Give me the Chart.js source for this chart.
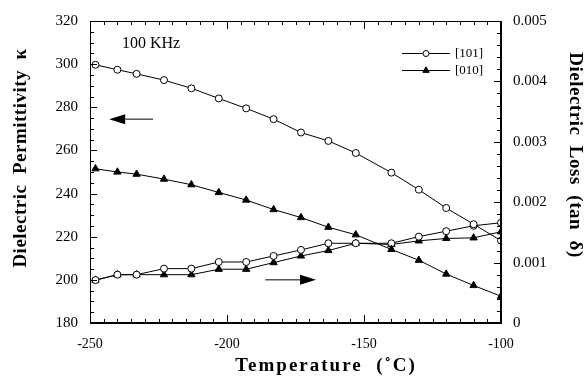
<!DOCTYPE html>
<html>
<head>
<meta charset="utf-8">
<script src="https://cdn.jsdelivr.net/npm/chart.js@4.4.1/dist/chart.umd.min.js"></script>
<style>
  html, body { margin: 0; padding: 0; background: #fff; }
  canvas { display: block; }
</style>
</head>
<body>
<canvas id="chart" width="588" height="377"></canvas>
<script>
// data
const temps = [-248, -240, -233, -223, -213, -203, -193, -183, -173, -163, -153, -140, -130, -120, -110, -100];
const kappa101 = [299.7, 297.4, 295.5, 292.6, 288.8, 284.1, 279.5, 274.5, 268.3, 264.4, 258.8, 249.7, 241.8, 233.3, 225.8, 218.2];
const kappa010 = [251.5, 250.0, 249.0, 246.7, 244.1, 240.5, 237.0, 232.6, 228.9, 224.4, 220.9, 214.1, 209.1, 202.7, 197.4, 192.4];
const loss101 = [0.00071, 0.00080, 0.00080, 0.00090, 0.00090, 0.00101, 0.00101, 0.00111, 0.00121, 0.00132, 0.00132, 0.00132, 0.00143, 0.00152, 0.00161, 0.00166];
const loss010 = [0.00071, 0.00080, 0.00080, 0.00080, 0.00080, 0.00089, 0.00089, 0.00100, 0.00111, 0.00120, 0.00132, 0.00130, 0.00136, 0.00140, 0.00141, 0.00151];

const seriesNames = ['[101]', '[010]'];
const xTicks = [-250, -200, -150, -100];
const kappaTicks = [180, 200, 220, 240, 260, 280, 300, 320];
const lossTicks = [0, 0.001, 0.002, 0.003, 0.004, 0.005];

// arrows: [fromT, toT, value, axis]
const arrows = [
  [-227, -243, 274.5, 'y'],
  [-186, -167.5, 200, 'y']
];

const serif = "'Liberation Serif', 'Times New Roman', serif";

function pts(ys) {
  return temps.map((t, i) => ({ x: t, y: ys[i] }));
}

const circle = { pointStyle: 'circle', pointRadius: 3.5, pointBackgroundColor: '#fff', pointBorderColor: '#000', pointBorderWidth: 1 };
const tri = { pointStyle: 'triangle', pointRadius: 4.2, pointBackgroundColor: '#000', pointBorderColor: '#000', pointBorderWidth: 1 };

const setTicks = arr => scale => { scale.ticks = arr.map(v => ({ value: v })); };

// inward ticks, frame, arrows, legend, titles
const decorations = {
  id: 'decorations',
  afterDraw(chart) {
    const ctx = chart.ctx;
    const a = chart.chartArea;
    const x = chart.scales.x, y = chart.scales.y, y2 = chart.scales.y2;
    ctx.save();
    ctx.strokeStyle = '#000';
    ctx.lineWidth = 1;
    ctx.strokeRect(a.left + 0.5, a.top + 0.5, a.right - a.left - 1, a.bottom - a.top - 1);

    ctx.beginPath();
    for (let t = -250; t <= -100; t += 5) {
      const px = Math.round(x.getPixelForValue(t)) + 0.5;
      const len = t % 50 === 0 ? 8 : 4;
      ctx.moveTo(px, a.bottom); ctx.lineTo(px, a.bottom - len);
      ctx.moveTo(px, a.top); ctx.lineTo(px, a.top + len);
    }
    for (let k = 180; k <= 320; k += 5) {
      const py = Math.round(y.getPixelForValue(k)) + 0.5;
      const len = k % 20 === 0 ? 7 : 4;
      ctx.moveTo(a.left, py); ctx.lineTo(a.left + len, py);
    }
    for (let i = 0; i <= 25; i++) {
      const py = Math.round(y2.getPixelForValue(i * 0.0002)) + 0.5;
      const len = i % 5 === 0 ? 7 : 4;
      ctx.moveTo(a.right, py); ctx.lineTo(a.right - len, py);
    }
    ctx.stroke();

    // arrows
    ctx.fillStyle = '#000';
    arrows.forEach(([t0, t1, v, ax]) => {
      const sc = chart.scales[ax];
      const x0 = x.getPixelForValue(t0), x1 = x.getPixelForValue(t1);
      const py = sc.getPixelForValue(v);
      const dir = Math.sign(x1 - x0);
      const head = 16;
      ctx.beginPath();
      ctx.moveTo(x0, py); ctx.lineTo(x1 - dir * head, py);
      ctx.stroke();
      ctx.beginPath();
      ctx.moveTo(x1, py);
      ctx.lineTo(x1 - dir * head, py - 5);
      ctx.lineTo(x1 - dir * head, py + 5);
      ctx.closePath();
      ctx.fill();
    });

    // legend
    const styles = [circle, tri];
    seriesNames.forEach((name, i) => {
      const ly = 53 + i * 17;
      ctx.beginPath();
      ctx.moveTo(402, ly + 0.5); ctx.lineTo(450, ly + 0.5);
      ctx.stroke();
      const s = styles[i];
      ctx.fillStyle = s.pointBackgroundColor;
      ctx.strokeStyle = '#000';
      Chart.helpers.drawPoint(ctx, { pointStyle: s.pointStyle, radius: s.pointRadius - 0.5, rotation: 0, borderWidth: 1 }, 426, ly + 0.5);
      ctx.fillStyle = '#000';
      ctx.font = '13px ' + serif;
      ctx.textAlign = 'left';
      ctx.textBaseline = 'middle';
      ctx.fillText(name, 455, ly + 1);
    });

    // frequency label
    ctx.font = '16px ' + serif;
    ctx.textBaseline = 'alphabetic';
    ctx.fillText('100 KHz', 122, 48);

    // axis titles
    ctx.font = 'bold 19px ' + serif;
    ctx.textAlign = 'center';
    ctx.textBaseline = 'middle';
    ctx.letterSpacing = '2px';
    ctx.fillText('Temperature  (˚C)', 326, 366);
    ctx.letterSpacing = '0.5px';
    ctx.save();
    ctx.translate(21, 158);
    ctx.rotate(-Math.PI / 2);
    ctx.fillText('Dielectric  Permittivity  κ', 0, 0);
    ctx.restore();
    ctx.save();
    ctx.translate(575, 155);
    ctx.rotate(Math.PI / 2);
    ctx.fillText('Dielectric  Loss  (tan  δ)', 0, 0);
    ctx.restore();
    ctx.restore();
  }
};

new Chart(document.getElementById('chart'), {
  type: 'line',
  data: {
    datasets: [
      { label: seriesNames[0], data: pts(kappa101), yAxisID: 'y', ...circle },
      { label: seriesNames[1], data: pts(kappa010), yAxisID: 'y', ...tri },
      { label: seriesNames[0] + ' loss', data: pts(loss101), yAxisID: 'y2', ...circle },
      { label: seriesNames[1] + ' loss', data: pts(loss010), yAxisID: 'y2', ...tri }
    ].map(d => Object.assign(d, { borderColor: '#000', borderWidth: 1, fill: false, tension: 0 }))
  },
  options: {
    responsive: false,
    animation: false,
    layout: { autoPadding: false, padding: { top: 15, left: 0, right: 0, bottom: 0 } },
    plugins: { legend: { display: false }, tooltip: { enabled: false } },
    scales: {
      x: {
        type: 'linear', position: 'bottom', min: -250, max: -100,
        afterBuildTicks: setTicks(xTicks),
        afterFit: s => { s.height = 54; },
        grid: { drawOnChartArea: false, drawTicks: false },
        border: { color: '#000' },
        ticks: { color: '#000', padding: 13, font: { family: serif, size: 14 } }
      },
      y: {
        position: 'left', min: 180, max: 320,
        afterBuildTicks: setTicks(kappaTicks),
        afterFit: s => { s.width = 90; },
        grid: { drawOnChartArea: false, drawTicks: false },
        border: { color: '#000' },
        ticks: { color: '#000', padding: 12, font: { family: serif, size: 15 } }
      },
      y2: {
        position: 'right', min: 0, max: 0.005,
        afterBuildTicks: setTicks(lossTicks),
        afterFit: s => { s.width = 87; },
        grid: { drawOnChartArea: false, drawTicks: false },
        border: { color: '#000' },
        ticks: { color: '#000', padding: 12, font: { family: serif, size: 15 }, callback: v => String(v) }
      }
    }
  },
  plugins: [decorations]
});
</script>
</body>
</html>
